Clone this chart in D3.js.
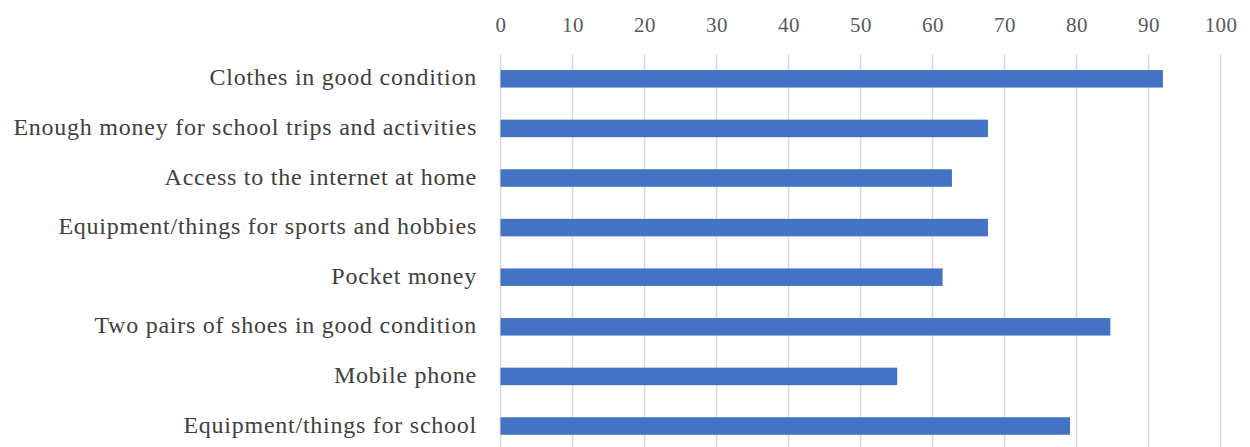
<!DOCTYPE html>
<html>
<head>
<meta charset="utf-8">
<script src="https://cdn.jsdelivr.net/npm/d3@7"></script>
<style>
  body { margin: 0; background: #fff; }
  text { font-family: "Liberation Serif", "DejaVu Serif", serif; }
</style>
</head>
<body>
<script>
// values (percent)
var categories = [
  'Clothes in good condition',
  'Enough money for school trips and activities',
  'Access to the internet at home',
  'Equipment/things for sports and hobbies',
  'Pocket money',
  'Two pairs of shoes in good condition',
  'Mobile phone',
  'Equipment/things for school'
];
var values = [92.0, 67.7, 62.7, 67.7, 61.4, 84.7, 55.1, 79.1];
var ticks = [0, 10, 20, 30, 40, 50, 60, 70, 80, 90, 100];

var width = 1250, height = 447;
var margin = { top: 54, left: 500.5 };

var svg = d3.select('body').append('svg')
  .attr('width', width).attr('height', height);

var x = d3.scaleLinear().domain([0, 100]).range([margin.left, 1220.5]);
var y = d3.scaleBand().domain(categories).range([margin.top, margin.top + 49.6 * categories.length])
  .paddingInner(0.647).paddingOuter(0.3235);

// gridlines
svg.append('g').selectAll('line').data(ticks).enter().append('line')
  .attr('x1', function(d) { return x(d); })
  .attr('x2', function(d) { return x(d); })
  .attr('y1', margin.top)
  .attr('y2', height)
  .attr('stroke', '#d9d9d9')
  .attr('stroke-width', 1.5);

// top axis
var axis = svg.append('g')
  .attr('transform', 'translate(0,31.5)')
  .call(d3.axisTop(x).tickValues(ticks).tickSize(0).tickPadding(0));
axis.select('.domain').remove();
axis.selectAll('text')
  .attr('dy', '0')
  .attr('font-size', '21px')
  .attr('letter-spacing', '0.4px')
  .attr('fill', '#595959')
  .style('font-family', '"Liberation Serif", serif');

// bars
svg.append('g').selectAll('rect').data(values).enter().append('rect')
  .attr('x', x(0))
  .attr('y', function(d, i) { return y(categories[i]); })
  .attr('width', function(d) { return x(d) - x(0); })
  .attr('height', y.bandwidth())
  .attr('fill', '#4472c4');

// category labels
svg.append('g').selectAll('text').data(categories).enter().append('text')
  .attr('x', 477)
  .attr('y', function(d) { return y(d) + y.bandwidth() / 2 + 6.5; })
  .attr('text-anchor', 'end')
  .attr('font-size', '24px')
  .attr('letter-spacing', '0.75px')
  .attr('fill', '#404040')
  .text(function(d) { return d; });
</script>
</body>
</html>
